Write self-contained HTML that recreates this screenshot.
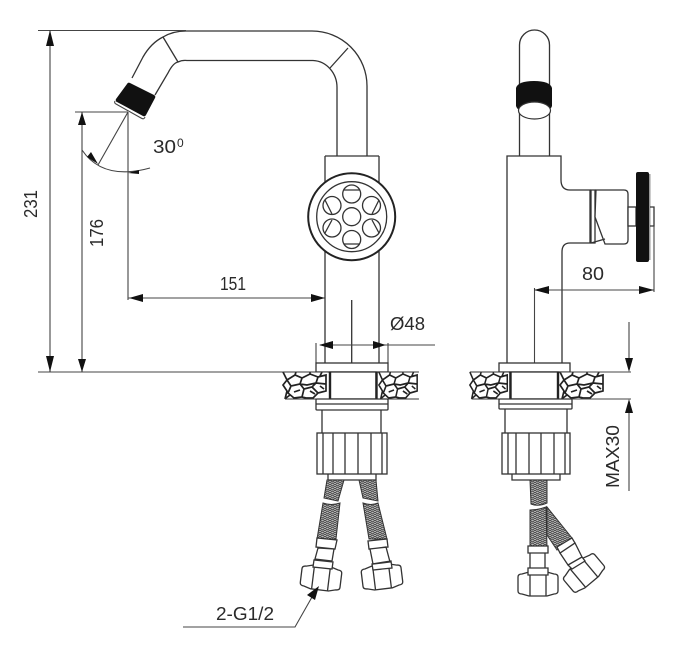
<!DOCTYPE html>
<html><head><meta charset="utf-8"><style>
html,body{margin:0;padding:0;background:#fff}
svg{display:block}
text{font-family:"Liberation Sans",sans-serif;font-size:18px;fill:#2a2a2a}
.l{fill:none;stroke:#333;stroke-width:1.3}
.d{fill:none;stroke:#444;stroke-width:1.1}
.w{fill:#fff;stroke:#333;stroke-width:1.3}
.a{fill:#111;stroke:none}
</style></head><body>
<svg width="680" height="649" viewBox="0 0 680 649" xmlns="http://www.w3.org/2000/svg">
<defs>
<pattern id="br" width="5" height="4" patternUnits="userSpaceOnUse">
<rect width="5" height="4" fill="#b8b8b8"/>
<path d="M0 0L2.500 2L5 0M0 2L2.500 4L5 2" stroke="#333" stroke-width=".8" fill="none"/>
</pattern>
<g id="stone">
<path d="M1 0L5 8 1 13 5 19 3 27H45L46 16 43 9 46 0Z" fill="#fff"/>
<path d="M1 0L5 8 1 13 5 19 3 27M5 8L13 3 20 6 18 12 9 14 5 8M20 6L28 2 36 5 34 11 25 13 18 12M36 5L44 3 44 12 34 11M9 14L6 21 12 26 20 25 22 17 18 12M22 17L30 15 34 11M30 15L36 21 44 19 44 12M36 21L31 26 24 26 20 25M12 20L18 18M28 19L33 22M38 14L42 17M8 23L4 26M14 0L13 3M28 0V2M40 0L38 4" fill="none" stroke="#222" stroke-width="1.700"/>
<path d="M3 27H46M1 0H46" stroke="#333" stroke-width="1.100"/>
</g>
<g id="hex">
<path d="M-20 -7Q-20 -10 -16 -10L-9 -12H9L16 -10Q20 -10 20 -7V7Q20 10 16 10L9 12H-9L-16 10Q-20 10 -20 7Z" class="w"/>
<path d="M-8 -12V12M8 -12V12" class="l"/>
</g>
</defs>
<rect width="680" height="649" fill="#fff"/>

<!-- left view spout -->
<path class="l" d="M132 78L143 57Q151 43 163 37Q173 31 186 31H312A55 55 0 0 1 367 86V156"/>
<path class="l" d="M155 95L168 73Q173 63 178 62Q182 60 187 60.500H313A25 27 0 0 1 337 88V156"/>
<path class="l" d="M163 37L178 62M348 48L330 68"/>
<path d="M127 84Q128 82 130 83L154 95Q156 96 155 98L146 115Q145 117 143 116L117 102Q115 101 116 99Z" fill="#111"/>
<path d="M115 101Q114 103 116 104L141 118Q144 120 145 117" fill="none" stroke="#444" stroke-width="1.100"/>

<!-- dims top left -->
<path class="d" d="M38 30.500H186M50 30V372M38 372H330M75 112H128M82 112V372M128 112V300M128 298H325"/>
<path class="a" d="M50 30L46 46H54ZM50 372L46 356H54ZM82 112L78 125H86ZM82 372L78 359H86ZM129 298L143 294V302ZM325 298L311 294V302Z"/>
<path class="d" d="M128 112L98 165M82 150Q103 181 150 168"/>
<path class="a" d="M98 164L87 157L91 152ZM128 173L139 170L139 174Z"/>

<!-- body left -->
<path class="l" d="M325 156H379M325 156V363M379 156V363M351.700 300V363"/>
<circle cx="351.700" cy="216.700" r="43.500" fill="#fff" stroke="#222" stroke-width="2"/>
<circle cx="351.700" cy="216.700" r="35" class="l"/>
<g class="w" stroke-width="1.200">
<circle cx="351.700" cy="216.700" r="9"/><circle cx="351.700" cy="194" r="9"/><circle cx="351.700" cy="239.500" r="9"/>
<circle cx="332" cy="205.500" r="9"/><circle cx="371.500" cy="205.500" r="9"/><circle cx="332" cy="228" r="9"/><circle cx="371.500" cy="228" r="9"/>
</g>
<path class="l" d="M344 190H360M344 244H360M325 200L332 214M379 200L372 214M325 233L332 220M379 233L372 220"/>

<!-- dia 48 -->
<path class="d" d="M316 343V363M388 343V363M320 345H435"/>
<path class="a" d="M319 345L333 341V349ZM386 345L373 341V349Z"/>

<!-- left base -->
<rect x="316" y="363" width="72" height="9" class="w"/>
<use href="#stone" transform="translate(282 372)"/>
<use href="#stone" transform="translate(378 372) scale(.89 1)"/>
<rect x="330" y="372" width="46" height="27" class="w"/>
<path d="M330 372V399M376.500 372V399" stroke="#222" stroke-width="2.400"/>
<rect x="316" y="399" width="72" height="11" class="w" rx="1"/>
<path class="l" d="M316 404H388"/>
<path class="l" d="M322 410V433M381 410V433"/>
<rect x="317" y="433" width="70" height="41" class="w"/>
<path class="l" d="M323 433V474M333 433V474M345 433V474M358 433V474M371 433V474M382 433V474"/>
<path class="l" d="M328 474V480H376V474"/>

<!-- left hoses -->
<path d="M327 480H344L338 501L324 498Z" fill="url(#br)" stroke="#333"/>
<path d="M323 503Q331 506 340 503L336 539H317Z" fill="url(#br)" stroke="#333"/>
<path d="M359 480H376L378 501L363 498Z" fill="url(#br)" stroke="#333"/>
<path d="M363 503Q371 506 378 503L387 539H369Z" fill="url(#br)" stroke="#333"/>
<use href="#hex" transform="translate(321 578) rotate(7)"/>
<use href="#hex" transform="translate(382 577) rotate(-7)"/>
<path class="w" d="M317 538L337 540L335 549L316 547ZM318 548L334 549L332 561L315 559ZM314 560L333 562L332 569L313 567Z"/>
<path class="w" d="M368 541L387 539L388 547L369 549ZM370 549L386 547L390 562L373 564ZM372 564L391 561L392 568L373 570Z"/>

<!-- leader -->
<path class="d" d="M183 627H295L316 590"/>
<path class="a" d="M319 586L307 595L315 600Z"/>

<!-- right view -->
<path class="l" d="M519.500 156V45A15 15 0 0 1 549.500 45V156"/>
<path d="M516 88Q518 81 534 81Q550 81 552 88V106Q550 113 534 114Q518 113 516 106Z" fill="#111"/>
<ellipse cx="534.500" cy="110.500" rx="16" ry="8.500" fill="#fff" stroke="#333" stroke-width="1.200"/>
<path class="w" d="M507 363V156H561V180Q561 190 570 190H590V243H570Q562 243 562 252V363"/>
<path class="w" d="M591 190H595V243L591 243Z"/>
<path class="w" d="M596 190H624Q628 190 628 194V240Q628 244 624 244H605L595 217Z"/>
<path class="l" d="M591 243L605 239"/>
<rect x="628" y="207" width="8" height="19" class="w"/>
<rect x="636" y="172" width="13" height="90" rx="2" fill="#111"/>
<rect x="649" y="174" width="1.500" height="86" fill="#999"/>
<path class="l" d="M650 207H654V226H650"/>
<path class="d" d="M654 226V292M534 290H654M534.500 288V363"/>
<path class="a" d="M534 290L549 286V294ZM654 290L639 286V294Z"/>

<!-- right base -->
<rect x="499" y="363" width="71" height="9" class="w"/>
<use href="#stone" transform="translate(469 372) scale(.87 1)"/>
<use href="#stone" transform="translate(559 372)"/>
<rect x="510" y="372" width="48" height="27" class="w"/>
<path d="M510.500 372V399M558 372V399" stroke="#222" stroke-width="2.400"/>
<path class="d" d="M560 372H631M560 399H631M629 322V368M629 403V491"/>
<path class="a" d="M629 372L625 358H633ZM629 399L625 413H633Z"/>
<rect x="499" y="399" width="73" height="10" class="w" rx="1"/>
<path class="l" d="M499 404H572M505 409V433M567 409V433"/>
<rect x="502" y="433" width="68" height="41" class="w"/>
<path class="l" d="M508 433V474M516 433V474M529 433V474M541 433V474M554 433V474M565 433V474"/>
<path class="l" d="M512 474V480H560V474"/>

<!-- right hoses -->
<path d="M530 480H547V503Q538 507 531 504Z" fill="url(#br)" stroke="#333"/>
<path d="M547 507L572 538L557 550L547 535Z" fill="url(#br)" stroke="#333"/>
<path d="M530 510Q538 510 546 507L547 547H530Z" fill="url(#br)" stroke="#333"/>
<use href="#hex" transform="translate(538 584)"/>
<use href="#hex" transform="translate(584 573) rotate(-40)"/>
<path class="w" d="M528 546H548V553H528ZM530 553H545V568H530ZM528 568H548V575H528Z"/>
<path class="w" d="M557 547L572 538L575 543L560 553ZM560 553L575 543L582 557L568 565ZM568 565L582 557L585 561L572 569Z"/>

<!-- labels -->
<text transform="translate(37 218) rotate(-90)" textLength="28" lengthAdjust="spacingAndGlyphs">231</text>
<text transform="translate(103 247) rotate(-90)" textLength="28" lengthAdjust="spacingAndGlyphs">176</text>
<text x="220" y="290" textLength="26" lengthAdjust="spacingAndGlyphs">151</text>
<text x="153" y="153" textLength="23" lengthAdjust="spacingAndGlyphs">30</text><text x="177" y="147" style="font-size:12px">0</text>
<text x="390" y="330" textLength="35" lengthAdjust="spacingAndGlyphs">Ø48</text>
<text x="582" y="280" textLength="22" lengthAdjust="spacingAndGlyphs">80</text>
<text transform="translate(619 488) rotate(-90)" textLength="63" lengthAdjust="spacingAndGlyphs">MAX30</text>
<text x="216" y="620" textLength="58" lengthAdjust="spacingAndGlyphs">2-G1/2</text>
</svg>
</body></html>
